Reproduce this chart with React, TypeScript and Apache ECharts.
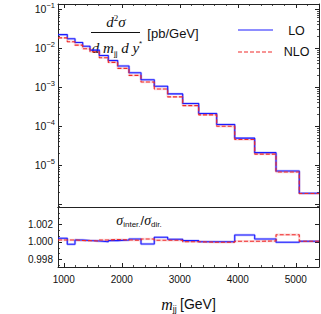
import React, { useEffect, useRef } from "react";
import * as echarts from "echarts";

// Bin edges of the m_jj histogram [GeV]
const binEdges = [900, 1060, 1193, 1326, 1452, 1612, 1767, 1929, 2124, 2331, 2560, 2791, 3050, 3326, 3636, 3947, 4291, 4659, 5060, 5400];
// d2sigma / dm dy* [pb/GeV]
const loXsec = [0.0222, 0.0173, 0.0139, 0.0112, 0.00889, 0.00647, 0.00483, 0.00348, 0.00234, 0.00155, 0.00105, 6.71e-4, 3.8e-4, 2.11e-4, 1.1e-4, 4.94e-5, 2.1e-5, 7.11e-6, 1.92e-6];
const nloXsec = [0.0183, 0.0145, 0.0119, 0.0096, 0.00805, 0.00566, 0.0043, 0.00302, 0.002, 0.00136, 9.0e-4, 5.62e-4, 3.37e-4, 1.95e-4, 1.0e-4, 4.58e-5, 1.93e-5, 6.71e-6, 1.89e-6];
// sigma_inter / sigma_dir
const loRatio = [1.00042, 0.99974, 1.00023, 1.00017, 1.00011, 1.00003, 1.00015, 1.00023, 1.00034, 0.99977, 1.00054, 1.00031, 1.00015, 1.00003, 1.00003, 1.0008, 1.00034, 0.99997, 1.00008];
const nloRatio = [1.00023, 1.00023, 1.00017, 1.00015, 1.00011, 1.00023, 1.00029, 1.00023, 1.0002, 1.00034, 1.0002, 1.0002, 1.00003, 0.99997, 0.99997, 1.00008, 1.00011, 1.00083, 1.00008];

const xMajorTicks = [1000, 2000, 3000, 4000, 5000];
const xMinorTicks = [1000, 1200, 1400, 1600, 1800, 2000, 2200, 2400, 2600, 2800, 3000, 3200, 3400, 3600, 3800, 4000, 4200, 4400, 4600, 4800, 5000, 5200, 5400];
const yDecades = [-6, -5, -4, -3, -2, -1];
const yDecadeLabels = [-5, -4, -3, -2, -1];
const ratioTicks = [0.998, 1.0, 1.002];
const ratioMinorTicks = [0.99733, 0.99867, 0.998, 0.99933, 1.0, 1.00067, 1.00133, 1.002, 1.00267, 1.00333];

const X_MIN = 900;
const X_MAX = 5400;
const LOGY_MIN = -6.07;
const LOGY_MAX = -0.87;
const R_MIN = 0.99714;
const R_MAX = 1.004;

const SANS = "Liberation Sans";
const SERIF = "Liberation Serif";
const AX = "#222";
const BLUE = "#1c1cff";
const RED = "#f02a2a";

function stepData(vals: number[], tf: (v: number) => number) {
  return binEdges.map((e, i) => [e, tf(vals[Math.min(i, vals.length - 1)])]);
}

function minorLogTicks(): number[] {
  const out: number[] = [];
  for (let n = -7; n <= -1; n++) {
    for (let k = 2; k <= 9; k++) {
      const v = Math.log10(k) + n;
      if (v > LOGY_MIN && v < LOGY_MAX) out.push(v);
    }
  }
  return out;
}

export default function App() {
  const ref = useRef<HTMLDivElement>(null);
  useEffect(() => {
    if (!ref.current) return;
    const chart = echarts.init(ref.current, null, { renderer: "svg" });
    const ident = (v: number) => v;
    const baseX = (grid: number, pos: string, extra: any = {}) => ({
      type: "value",
      gridIndex: grid,
      position: pos,
      min: X_MIN,
      max: X_MAX,
      splitLine: { show: false },
      axisLine: { show: false, onZero: false },
      axisTick: { show: false },
      axisLabel: { show: false },
      ...extra,
    });
    const baseY = (grid: number, pos: string, min: number, max: number, extra: any = {}) => ({
      type: "value",
      gridIndex: grid,
      position: pos,
      min,
      max,
      splitLine: { show: false },
      axisLine: { show: false, onZero: false },
      axisTick: { show: false },
      axisLabel: { show: false },
      ...extra,
    });
    const line = { show: true, onZero: false, lineStyle: { color: AX, width: 1 } };
    const majTick = (vals: number[]) => ({ show: true, inside: true, length: 4, customValues: vals, lineStyle: { color: AX, width: 1 } });
    const minTick = (vals: number[]) => ({ show: true, inside: true, length: 2, customValues: vals, lineStyle: { color: AX, width: 0.8 } });
    const minorLog = minorLogTicks();

    const lineSeries = (name: string, data: any[], xi: number, yi: number, color: string, dashed: boolean, halo: boolean) => ({
      type: "line",
      name,
      data,
      xAxisIndex: xi,
      yAxisIndex: yi,
      step: "end",
      symbol: "none",
      silent: true,
      z: halo ? 2 : 3,
      lineStyle: halo
        ? { color, width: 2.4, opacity: dashed ? 0.18 : 0.28 }
        : { color, width: 1.1, type: dashed ? [4, 2] : "solid" },
    });

    const option: any = {
      animation: false,
      backgroundColor: "#fff",
      grid: [
        { left: 58, right: 2, top: 4, height: 203 },
        { left: 58, right: 2, top: 207, height: 60 },
      ],
      xAxis: [
        baseX(0, "bottom", { axisLine: line }),
        baseX(0, "top", { axisLine: line, axisTick: majTick(xMajorTicks) }),
        baseX(0, "top", { axisTick: minTick(xMinorTicks) }),
        baseX(1, "bottom", {
          axisLine: line,
          axisTick: majTick(xMajorTicks),
          axisLabel: {
            show: true,
            customValues: xMajorTicks,
            margin: 7,
            fontSize: 10,
            fontFamily: SANS,
            color: "#111",
            formatter: (v: number) => String(Math.round(v)),
          },
          name: "{i|m}{sub|jj} {n|[GeV]}",
          nameLocation: "middle",
          nameGap: 28,
          nameTextStyle: {
            rich: {
              i: { fontFamily: SERIF, fontStyle: "italic", fontSize: 16, lineHeight: 18, color: "#111" },
              sub: { fontFamily: SANS, fontSize: 9, verticalAlign: "bottom", color: "#111" },
              n: { fontFamily: SANS, fontSize: 14, lineHeight: 18, color: "#111" },
            },
          },
        }),
        baseX(1, "bottom", { axisTick: minTick(xMinorTicks) }),
        baseX(1, "top", { axisLine: line }),
      ],
      yAxis: [
        baseY(0, "left", LOGY_MIN, LOGY_MAX, {
          axisLine: line,
          axisTick: majTick(yDecades),
          axisLabel: {
            show: true,
            customValues: yDecadeLabels,
            margin: 3,
            formatter: (v: number) => `{b|10}{s|${Math.round(v) < 0 ? "\u2212" : ""}${Math.abs(Math.round(v))}}`,
            rich: {
              b: { fontFamily: SANS, fontSize: 10.5, lineHeight: 16, color: "#111" },
              s: { fontFamily: SANS, fontSize: 7.5, verticalAlign: "top", color: "#111" },
            },
          },
        }),
        baseY(0, "left", LOGY_MIN, LOGY_MAX, { axisTick: minTick(minorLog) }),
        baseY(0, "right", LOGY_MIN, LOGY_MAX, { axisLine: line, axisTick: majTick(yDecades) }),
        baseY(0, "right", LOGY_MIN, LOGY_MAX, { axisTick: minTick(minorLog) }),
        baseY(1, "left", R_MIN, R_MAX, {
          axisLine: line,
          axisTick: majTick(ratioTicks),
          axisLabel: {
            show: true,
            customValues: ratioTicks,
            margin: 5,
            fontSize: 10,
            fontFamily: SANS,
            color: "#111",
            formatter: (v: number) => v.toFixed(3),
          },
        }),
        baseY(1, "left", R_MIN, R_MAX, { axisTick: minTick(ratioMinorTicks) }),
        baseY(1, "right", R_MIN, R_MAX, { axisLine: line, axisTick: majTick(ratioTicks) }),
      ],
      series: [
        lineSeries("LO halo", stepData(loXsec, Math.log10), 0, 0, BLUE, false, true),
        lineSeries("NLO halo", stepData(nloXsec, Math.log10), 0, 0, RED, true, true),
        lineSeries("LO", stepData(loXsec, Math.log10), 0, 0, BLUE, false, false),
        lineSeries("NLO", stepData(nloXsec, Math.log10), 0, 0, RED, true, false),
        lineSeries("LO ratio halo", stepData(loRatio, ident), 3, 4, BLUE, false, true),
        lineSeries("NLO ratio halo", stepData(nloRatio, ident), 3, 4, RED, true, true),
        lineSeries("LO ratio", stepData(loRatio, ident), 3, 4, BLUE, false, false),
        lineSeries("NLO ratio", stepData(nloRatio, ident), 3, 4, RED, true, false),
      ],
      graphic: [
        {
          type: "text",
          x: 116,
          y: 22,
          style: {
            text: "{i|d}{sup|2}{i|\u03c3}",
            align: "center",
            verticalAlign: "middle",
            textAlign: "center",
            textVerticalAlign: "middle",
            fill: "#111",
            rich: {
              i: { fontFamily: SERIF, fontStyle: "italic", fontSize: 15, lineHeight: 18, fill: "#111" },
              sup: { fontFamily: SERIF, fontSize: 9, verticalAlign: "top", fill: "#111" },
            },
          },
        },
        {
          type: "line",
          shape: { x1: 91, y1: 32.5, x2: 140, y2: 32.5 },
          style: { stroke: "#111", lineWidth: 1 },
        },
        {
          type: "text",
          x: 117,
          y: 48,
          style: {
            text: "{i|d m}{sub|jj}{i| d y}{sup|*}",
            align: "center",
            verticalAlign: "middle",
            textAlign: "center",
            textVerticalAlign: "middle",
            fill: "#111",
            rich: {
              i: { fontFamily: SERIF, fontStyle: "italic", fontSize: 15, lineHeight: 18, fill: "#111" },
              sub: { fontFamily: SANS, fontSize: 8, verticalAlign: "bottom", fill: "#111" },
              sup: { fontFamily: SANS, fontSize: 8, verticalAlign: "top", fill: "#111" },
            },
          },
        },
        {
          type: "text",
          x: 173,
          y: 33,
          style: {
            text: "[pb/GeV]",
            align: "center",
            verticalAlign: "middle",
            textAlign: "center",
            textVerticalAlign: "middle",
            fill: "#111",
            fontFamily: SANS,
            fontSize: 13,
          },
        },
        {
          type: "line",
          shape: { x1: 238, y1: 30, x2: 273, y2: 30 },
          style: { stroke: BLUE, lineWidth: 1.1 },
        },
        {
          type: "text",
          x: 296.5,
          y: 31,
          style: {
            text: "LO",
            align: "center",
            verticalAlign: "middle",
            textAlign: "center",
            textVerticalAlign: "middle",
            fill: "#111",
            fontFamily: SANS,
            fontSize: 12.5,
          },
        },
        {
          type: "line",
          shape: { x1: 238, y1: 52, x2: 273, y2: 52 },
          style: { stroke: RED, lineWidth: 1.1, lineDash: [4, 2] },
        },
        {
          type: "text",
          x: 296.5,
          y: 52,
          style: {
            text: "NLO",
            align: "center",
            verticalAlign: "middle",
            textAlign: "center",
            textVerticalAlign: "middle",
            fill: "#111",
            fontFamily: SANS,
            fontSize: 12.5,
          },
        },
        {
          type: "text",
          x: 139,
          y: 220,
          style: {
            text: "{i|\u03c3}{sub|inter.}{n|/}{i|\u03c3}{sub|dir.}",
            align: "center",
            verticalAlign: "middle",
            textAlign: "center",
            textVerticalAlign: "middle",
            fill: "#111",
            rich: {
              i: { fontFamily: SERIF, fontStyle: "italic", fontSize: 14, lineHeight: 17, fill: "#111" },
              n: { fontFamily: SANS, fontSize: 13, lineHeight: 17, fill: "#111" },
              sub: { fontFamily: SANS, fontSize: 8, verticalAlign: "bottom", fill: "#111" },
            },
          },
        },
      ],
    };
    chart.setOption(option);
    return () => chart.dispose();
  }, []);
  return (
    <div
      ref={ref}
      style={{ position: "fixed", left: 0, top: 0, width: 321, height: 314, background: "#fff" }}
    />
  );
}
